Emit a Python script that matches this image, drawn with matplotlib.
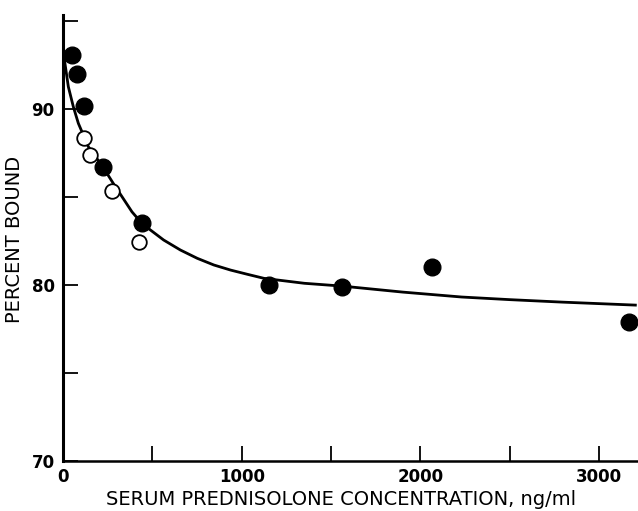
import matplotlib
matplotlib.use("Agg")
import matplotlib.pyplot as plt

# filled circles
filled_x = [50, 79, 118, 225, 444, 1152, 1560, 2067, 3169]
filled_y = [93.07, 91.99, 90.17, 86.7, 83.52, 80.0, 79.89, 81.02, 77.9]
# open circles
open_x = [118, 152, 275, 427]
open_y = [88.35, 87.39, 85.34, 82.44]
# fitted curve, points
curve_x = [3, 11, 30, 58, 86, 142, 223, 283, 386, 442, 489, 563, 657, 751, 844,
           938, 1032, 1125, 1350, 1562, 1900, 2230, 2500, 2792, 3202]
curve_y = [93.2, 92.6, 91.27, 90.13, 89.19, 87.86, 86.72, 85.75, 84.16, 83.5, 83.13,
           82.56, 81.99, 81.52, 81.14, 80.85, 80.61, 80.38, 80.1, 79.94, 79.6, 79.32,
           79.17, 79.03, 78.86]

xticks = [0, 500, 1000, 1500, 2000, 2500, 3000]
xticklabels = ["0", "", "1000", "", "2000", "", "3000"]
yticks = [70, 75, 80, 85, 90, 95]
yticklabels = ["70", "", "80", "", "90", ""]

plt.rcParams['font.family'] = ['DejaVu Sans']

fig = plt.figure(figsize=(6.38, 5.11), dpi=100)
ax = fig.add_axes([0.0987, 0.0978, 0.905, 0.873])

ax.plot(curve_x, curve_y, color="black", lw=2.0, zorder=2)
ax.plot(open_x, open_y, "o", ms=10.5, mfc="white", mec="black", mew=1.3, zorder=3)
ax.plot(filled_x, filled_y, "o", ms=12, color="black", zorder=4)

ax.set_xlim(0, 3230)
ax.set_ylim(70, 95.35)
ax.set_xticks(xticks)
ax.set_xticklabels(xticklabels, fontsize=12, fontweight="bold")
ax.set_yticks(yticks)
ax.set_yticklabels(yticklabels, fontsize=12, fontweight="bold")
ax.tick_params(direction="in", length=11, width=1.3)
ax.tick_params(axis="x", pad=5)
ax.tick_params(axis="y", pad=6)

for s in ["top", "right"]:
    ax.spines[s].set_visible(False)
ax.spines["left"].set_linewidth(2.2)
ax.spines["bottom"].set_linewidth(1.8)

ax.set_xlabel("SERUM PREDNISOLONE CONCENTRATION, ng/ml", fontsize=14)
ax.set_ylabel("PERCENT BOUND", fontsize=14)
ax.xaxis.set_label_coords(0.482, -0.064)
ax.yaxis.set_label_coords(-0.068, 0.496)

fig.savefig("out.png", dpi=100)
